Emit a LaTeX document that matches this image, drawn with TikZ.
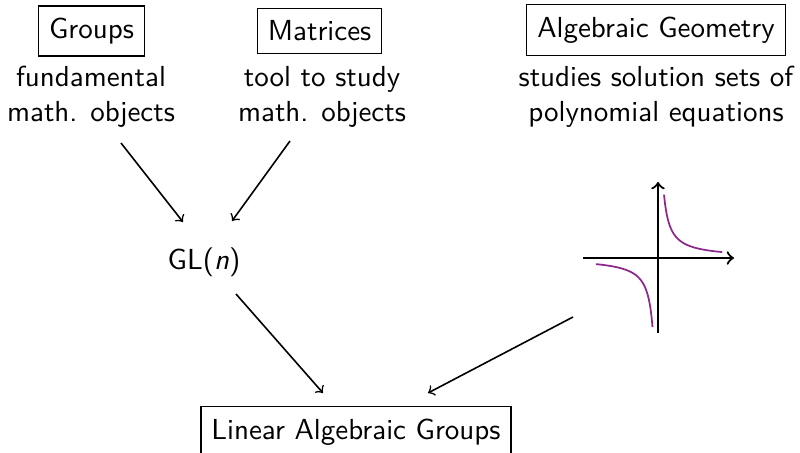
\documentclass[tikz,border=0pt]{standalone}
\usetikzlibrary{calc}
\definecolor{curvecol}{RGB}{140,40,140}
\begin{document}
\begin{tikzpicture}[x=0.345pt,y=-0.345pt,
  font=\sffamily,
  title/.style={draw,inner xsep=3.6pt,inner ysep=4.1pt},
  desc/.style={align=center},
  conn/.style={->,line width=0.55pt},
  axis/.style={->,line width=0.75pt},
  hyp/.style={curvecol,semithick}]
\useasboundingbox (0,0) rectangle (800,453);
% titles
\node[title] (groups) at (91.5,31) {Groups};
\node[title] (matrices) at (319.5,31) {Matrices};
\node[title] (ag) at (656,30) {Algebraic Geometry};
% descriptions
\node[desc] (gd) at (91,97) {fundamental\\math. objects};
\node[desc] (md) at (322,97) {tool to study\\math. objects};
\node[desc] (agd) at (656,97) {studies solution sets of\\polynomial equations};
% GL(n)
\node (gl) at (204,262) {GL(\textit{n})};
% LAG
\node[title] (lag) at (356,432) {Linear Algebraic Groups};
% hyperbola picture
\coordinate (o) at (658,258);
\coordinate (xa) at (583,258);
\coordinate (xb) at (734,258);
\coordinate (ya) at (658,333);
\coordinate (yb) at (658,182);
\draw[axis] (xa) -- (xb);
\draw[axis] (ya) -- (yb);
\draw[hyp,domain=6:64,samples=60] plot ({658+\x},{258-380/\x});
\draw[hyp,domain=-62:-5.5,samples=60] plot ({658+\x},{258-380/\x});
% connector end points
\coordinate (g1) at (121,143);
\coordinate (g2) at (183,222);
\coordinate (m1) at (290,141);
\coordinate (m2) at (232,221);
\coordinate (l1) at (236,294);
\coordinate (l2) at (323,393);
\coordinate (h1) at (573,317);
\coordinate (h2) at (428,393);
\draw[conn] (g1) -- (g2);
\draw[conn] (m1) -- (m2);
\draw[conn] (l1) -- (l2);
\draw[conn] (h1) -- (h2);
\end{tikzpicture}
\end{document}
